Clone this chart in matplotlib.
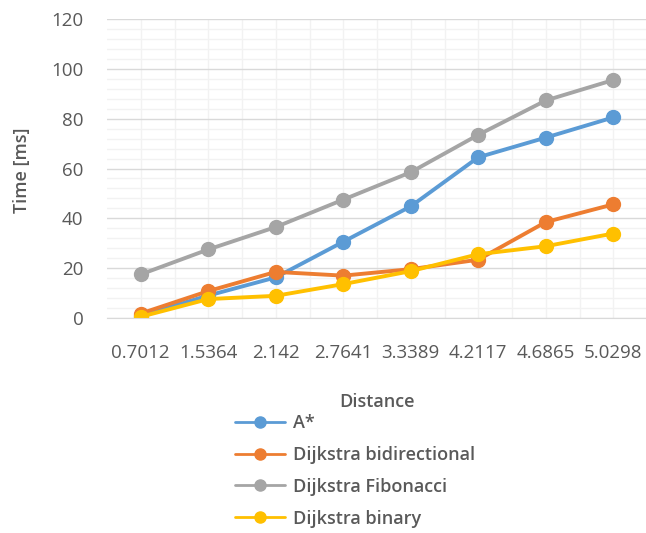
import matplotlib
matplotlib.use("Agg")
import matplotlib.pyplot as plt
from matplotlib.ticker import MultipleLocator
import numpy as np

distances = ['0.7012', '1.5364', '2.142', '2.7641', '3.3389', '4.2117', '4.6865', '5.0298']
a_star = [1, 9, 16.3, 30.6, 44.8, 64.5, 72.4, 80.5]
dijkstra_bidir = [1.8, 10.8, 18.5, 17, 19.6, 23.4, 38.5, 45.6]
dijkstra_fib = [17.5, 27.5, 36.5, 47.5, 58.5, 73.5, 87.3, 95.5]
dijkstra_bin = [0.5, 7.6, 8.9, 13.6, 18.8, 25.6, 28.8, 33.9]

series = [
    ('A*', a_star, '#5B9BD5'),
    ('Dijkstra bidirectional', dijkstra_bidir, '#ED7D31'),
    ('Dijkstra Fibonacci', dijkstra_fib, '#A5A5A5'),
    ('Dijkstra binary', dijkstra_bin, '#FFC000'),
]

plt.rcParams['font.family'] = ['Open Sans', 'DejaVu Sans']
txt = '#595959'

fig = plt.figure(figsize=(6.46, 5.33), dpi=100)
ax = fig.add_axes([107/646, 1 - 318/533, 540/646, 299/533])

x = np.arange(len(distances))
for name, vals, col in series:
    ax.plot(x, vals, color=col, lw=2.8, marker='o', markersize=10, label=name,
            solid_capstyle='round')

ax.set_xlim(-0.5, len(distances) - 0.5)
ax.set_ylim(0, 120)
ax.yaxis.set_major_locator(MultipleLocator(20))
ax.yaxis.set_minor_locator(MultipleLocator(4))
ax.set_xticks(x)
ax.set_xticklabels(distances)
ax.set_xticks(x + 0.5, minor=True)
ax.grid(True, which='major', axis='y', color='#D9D9D9', lw=1)
ax.grid(True, which='minor', axis='y', color='#F2F2F2', lw=1)
ax.grid(True, which='both', axis='x', color='#F2F2F2', lw=1)
ax.set_axisbelow(True)
for s in ['top', 'right', 'left']:
    ax.spines[s].set_visible(False)
ax.spines['bottom'].set_color('#D9D9D9')
ax.tick_params(which='both', length=0)
ax.tick_params(axis='x', pad=19, labelsize=13.5, labelcolor=txt)
ax.tick_params(axis='y', pad=17, labelsize=13.5, labelcolor=txt)

ax.set_xlabel('Distance', fontsize=13, color=txt, fontweight='semibold', va='center')
ax.xaxis.set_label_coords(0.5, (318 - 402) / 299)
ax.set_ylabel('Time [ms]', fontsize=13, color=txt, fontweight='semibold', va='center')
ax.yaxis.set_label_coords((22 - 107) / 540, 0.495)

leg = fig.legend(loc='upper left', bbox_to_anchor=(235/646, 1 - 414/533), frameon=False,
                 fontsize=13, handlelength=2.75, handletextpad=0.45, labelspacing=0.77,
                 borderaxespad=0, borderpad=0)
for t in leg.get_texts():
    t.set_color(txt)
    t.set_fontweight('semibold')
for h in leg.legend_handles:
    h.set_linewidth(2)
    h.set_markersize(8)

fig.savefig('out.png', dpi=100)
